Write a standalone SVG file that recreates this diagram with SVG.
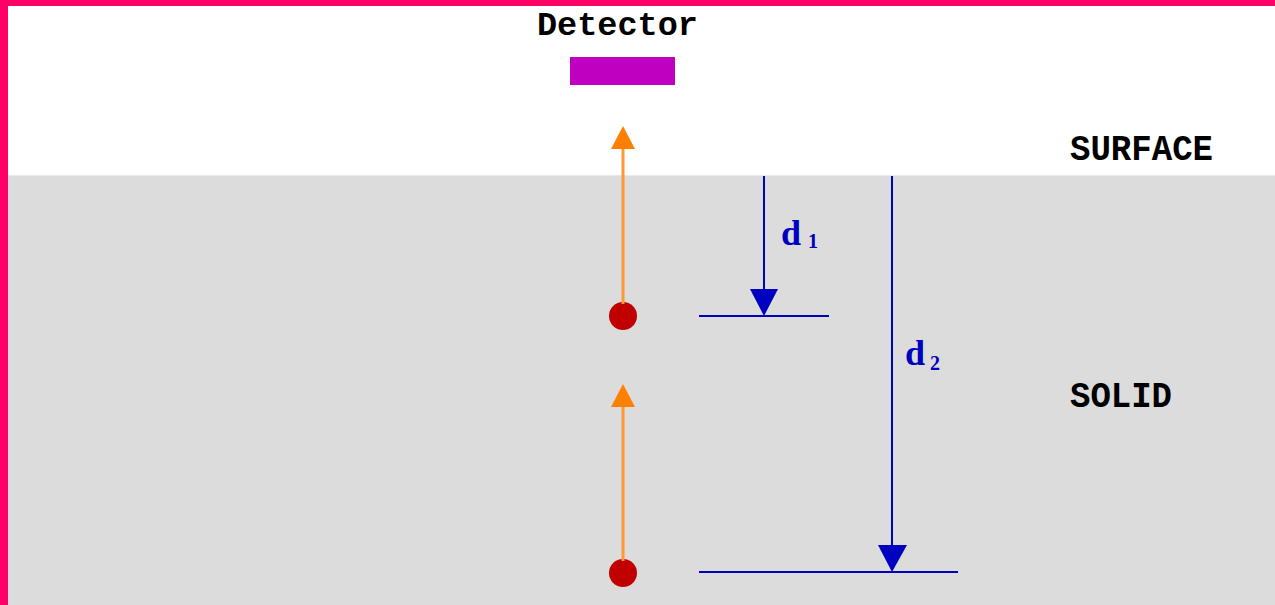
<svg xmlns="http://www.w3.org/2000/svg" width="1275" height="605" viewBox="0 0 1275 605">
  <defs>
    <style>
      .lbl { font-family: "Liberation Mono", "DejaVu Sans Mono", monospace; font-weight: bold; fill: #000; }
      .dim { font-family: "Liberation Serif", "DejaVu Serif", serif; font-weight: bold; fill: #0000C0; }
      .blue { stroke: #0000C0; stroke-width: 2; fill: none; }
      .orange { stroke: #FF9933; stroke-width: 3; fill: none; }
    </style>
  </defs>
  <rect x="0" y="0" width="1275" height="605" fill="#FFFFFF"/>
  <rect x="8" y="176" width="1267" height="429" fill="#DCDCDC"/>
  <line x1="8" y1="175.5" x2="1275" y2="175.5" stroke="#E9E9E9" stroke-width="1"/>
  <rect x="0" y="0" width="1275" height="6" fill="#FF0066"/>
  <rect x="0" y="0" width="8" height="605" fill="#FF0066"/>

  <g id="detector">
    <text class="lbl" x="537" y="35" font-size="34" textLength="161" lengthAdjust="spacingAndGlyphs">Detector</text>
    <rect x="570" y="57" width="105" height="28" fill="#C000C0"/>
  </g>
  <g id="surface-label">
    <text class="lbl" x="1070" y="160" font-size="36" textLength="143" lengthAdjust="spacingAndGlyphs">SURFACE</text>
  </g>
  <g id="solid-label">
    <text class="lbl" x="1070" y="407" font-size="36" textLength="102" lengthAdjust="spacingAndGlyphs">SOLID</text>
  </g>
  <g id="atom1">
    <circle cx="623" cy="316" r="14" fill="#C00000"/>
  </g>
  <g id="atom2">
    <circle cx="623" cy="573" r="14" fill="#C00000"/>
  </g>

  <g id="connectors">
    <line class="orange" x1="623" y1="304" x2="623" y2="146"/>
    <polygon points="623,126 611,149 635,149" fill="#FF8000"/>
    <line class="orange" x1="623" y1="561" x2="623" y2="404"/>
    <polygon points="623,384 611,407 635,407" fill="#FF8000"/>

    <line class="blue" x1="764" y1="176" x2="764" y2="292"/>
    <polygon points="750,289 778,289 764,316" fill="#0000C0"/>
    <line class="blue" x1="699" y1="316" x2="829" y2="316"/>
    <text class="dim" x="781" y="245" font-size="36">d</text>
    <text class="dim" x="808" y="248" font-size="20">1</text>

    <line class="blue" x1="892" y1="176" x2="892" y2="548"/>
    <polygon points="878,545 907,545 892,572" fill="#0000C0"/>
    <line class="blue" x1="699" y1="572" x2="958" y2="572"/>
    <text class="dim" x="905" y="365" font-size="36">d</text>
    <text class="dim" x="930" y="370" font-size="20">2</text>
  </g>
</svg>
